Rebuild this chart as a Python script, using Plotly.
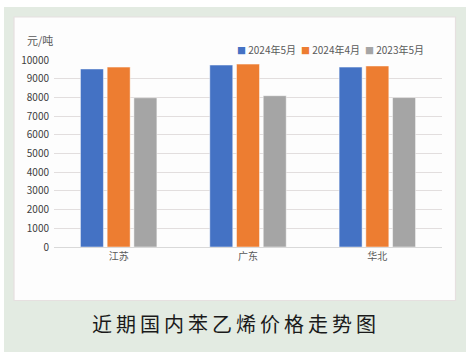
import plotly.graph_objects as go

categories = ["江苏", "广东", "华北"]
series_names = ["2024年5月", "2024年4月", "2023年5月"]
may_2024 = [9520, 9730, 9620]
apr_2024 = [9620, 9780, 9680]
may_2023 = [7980, 8090, 7990]
colors = ["#4472C4", "#ED7D31", "#A5A5A5"]
y_ticks = [0, 1000, 2000, 3000, 4000, 5000, 6000, 7000, 8000, 9000, 10000]

W, H = 467, 352
L, R, T, B = 54, 25, 60, 105
pw, ph = W - L - R, H - T - B

def px(x):
    return (x - L) / pw

def py(y):
    return (H - B - y) / ph

fig = go.Figure()
for name, vals, c in zip(series_names, [may_2024, apr_2024, may_2023], colors):
    fig.add_trace(go.Bar(x=categories, y=vals, name=name, marker_color=c,
                         marker_line=dict(color="rgba(255,255,255,0.6)", width=0.8)))

fig.update_layout(
    width=W, height=H,
    margin=dict(l=L, r=R, t=T, b=B),
    paper_bgcolor="white",
    plot_bgcolor="rgba(0,0,0,0)",
    barmode="group",
    bargap=0.38,
    bargroupgap=0.14,
    font=dict(family="Noto Sans CJK SC, sans-serif", color="#595959", size=10),
    xaxis=dict(showgrid=False, showline=True, linecolor="#d9d9d9", linewidth=1,
               ticks="", tickfont=dict(size=10, color="#595959")),
    yaxis=dict(range=[0, 10000], tickvals=y_ticks, ticktext=[str(v) for v in y_ticks],
               showgrid=True, gridcolor="#e2dede",
               gridwidth=1, zeroline=False, ticks="", tickfont=dict(size=10, color="#404040"),
               ticklabelstandoff=4),
    showlegend=False,
)

# green background panel
fig.add_shape(type="rect", xref="paper", yref="paper", x0=px(4), x1=px(466), y0=py(352), y1=py(7),
              fillcolor="#e3ebe2", line=dict(width=0), layer="below")
# white chart panel
fig.add_shape(type="rect", xref="paper", yref="paper", x0=px(14), x1=px(455.5), y0=py(300.5), y1=py(17),
              fillcolor="#fdfdfd", line=dict(color="#e6e0e0", width=1.2), layer="below")

# legend entries
legend_x = [235, 299, 363]
for name, c, lx in zip(series_names, colors, legend_x):
    fig.add_annotation(
        text=f'<span style="color:{c};font-size:9px">■</span> {name}',
        xref="paper", yref="paper", x=px(lx), y=py(49.5),
        xanchor="left", yanchor="middle", showarrow=False,
        font=dict(size=10, color="#595959"))

fig.add_annotation(text="元/吨", xref="paper", yref="paper", x=px(25), y=py(40),
                   xanchor="left", yanchor="middle", showarrow=False,
                   font=dict(size=11, color="#595959"))
title = "\u2009".join("近期国内苯乙烯价格走势图")
fig.add_annotation(text=title, xref="paper", yref="paper", x=px(234), y=py(323),
                   xanchor="center", yanchor="middle", showarrow=False,
                   font=dict(size=20, color="#1a1a1a"))

fig.write_html("out.html")
